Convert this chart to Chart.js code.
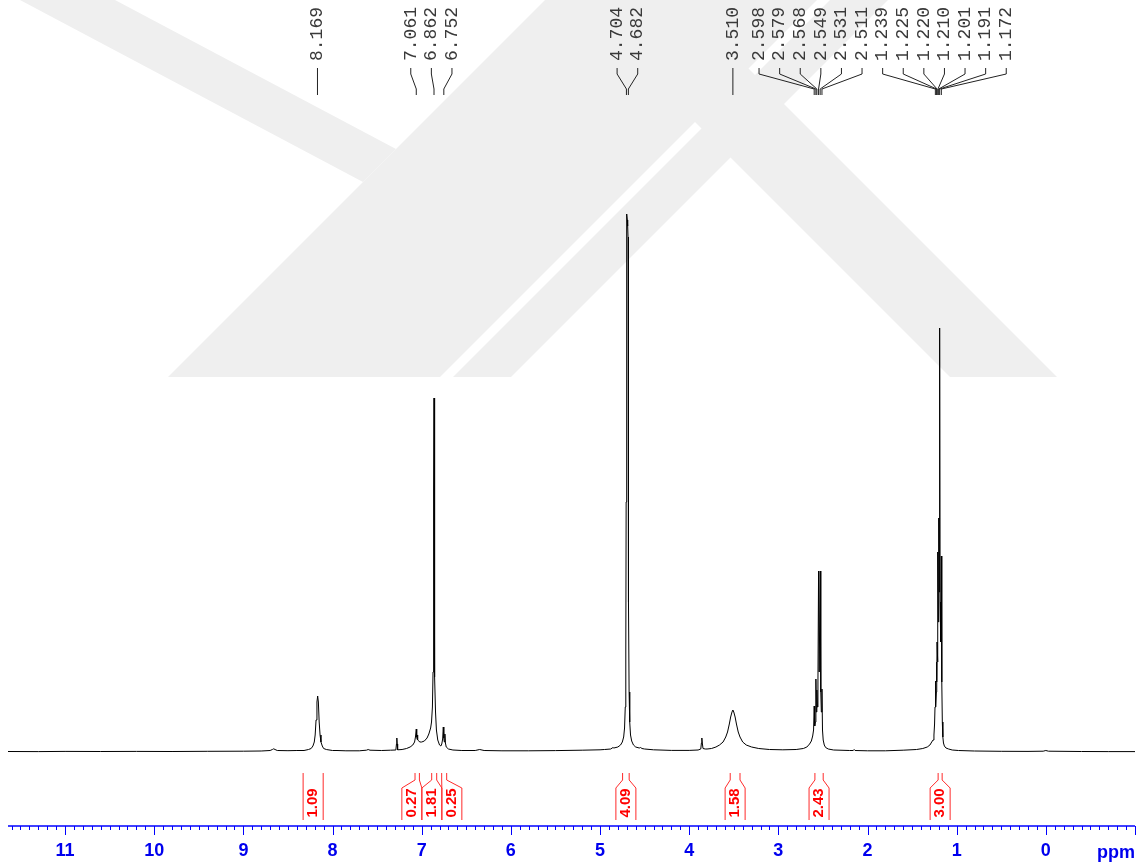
<!DOCTYPE html>
<html>
<head>
<meta charset="utf-8">
<title>1H NMR</title>
<script src="https://cdn.jsdelivr.net/npm/chart.js@4.4.1/dist/chart.umd.min.js"></script>
<style>
  html, body { margin: 0; padding: 0; background: #fff; }
  canvas { display: block; }
</style>
</head>
<body>
<canvas id="nmr" width="1146" height="868"></canvas>
<script>
// 1H spectrum trace: chemical shift (ppm) and intensity (arbitrary units)
var shiftPpm = [
  11.64, 11.3, 11.0, 10.6, 10.2, 9.8, 9.4, 9.0, 8.8, 8.70, 8.675, 8.66, 8.645, 8.62, 8.5, 8.4,
  8.32, 8.27, 8.24, 8.22, 8.205, 8.195, 8.185, 8.175, 8.167, 8.159, 8.150, 8.140, 8.130, 8.115, 8.10, 8.07, 8.0,
  7.95, 7.85, 7.70, 7.62, 7.60, 7.58, 7.45, 7.35, 7.29, 7.283, 7.279, 7.275, 7.27, 7.22, 7.17, 7.13, 7.10,
  7.08, 7.07, 7.061, 7.056, 7.052, 7.048, 7.043, 7.02, 7.00, 6.97, 6.94, 6.92, 6.90, 6.89, 6.88, 6.873,
  6.868, 6.865, 6.862, 6.859, 6.856, 6.851, 6.845, 6.835, 6.82, 6.80, 6.785, 6.775, 6.765, 6.758, 6.752,
  6.746, 6.740, 6.734, 6.725, 6.70, 6.65, 6.55, 6.40, 6.35, 6.30, 6.1, 5.8, 5.5, 5.2, 5.0,
  4.95, 4.88, 4.855, 4.845, 4.80, 4.77, 4.75, 4.735, 4.725, 4.717, 4.711, 4.707, 4.703, 4.699, 4.694,
  4.690, 4.686, 4.683, 4.679, 4.674, 4.667, 4.658, 4.645, 4.625, 4.60, 4.56, 4.545, 4.53, 4.50, 4.40, 4.20,
  4.0, 3.90, 3.87, 3.863, 3.858, 3.853, 3.845, 3.82, 3.80, 3.75, 3.70, 3.66, 3.62, 3.59, 3.57, 3.55, 3.535,
  3.52, 3.51, 3.50, 3.485, 3.47, 3.45, 3.43, 3.40, 3.36, 3.30, 3.22, 3.10, 2.95, 2.80, 2.72, 2.68, 2.65,
  2.63, 2.615, 2.605, 2.598, 2.592, 2.585, 2.579, 2.574, 2.568, 2.562, 2.556, 2.549, 2.542, 2.537, 2.531,
  2.524, 2.518, 2.511, 2.505, 2.497, 2.485, 2.47, 2.44, 2.38, 2.2, 2.16, 2.15, 2.14, 2.0, 1.8, 1.6, 1.45,
  1.38, 1.33, 1.30, 1.28, 1.265, 1.255, 1.248, 1.243, 1.239, 1.233, 1.228, 1.225, 1.222, 1.220, 1.215,
  1.210, 1.205, 1.201, 1.196, 1.191, 1.186, 1.181, 1.177, 1.172, 1.167, 1.161, 1.155, 1.148, 1.138, 1.12,
  1.09, 1.05, 0.98, 0.8, 0.5, 0.2, 0.03, 0.0, -0.03, -0.4, -0.7, -1.0
];
var intensity = [
  0.5, 0.4, 0.6, 0.5, 0.6, 0.5, 0.7, 0.8, 1, 1.5, 2.5, 3.2, 2.5, 1.5, 1.3, 1.5,
  1.5, 2.5, 3.5, 6, 10, 17, 32, 50, 56, 50, 30, 17, 10, 6, 3.5, 2.5, 1.5,
  1.5, 1.2, 1.2, 1.8, 2.5, 1.8, 1.5, 1.8, 2, 8, 14, 8, 2.2, 2.5, 3.5, 5, 7,
  10, 15, 23, 15, 13, 17, 12, 10, 10, 11, 14, 18, 24, 30, 45, 80,
  160, 260, 354, 260, 150, 75, 40, 22, 12, 7, 6, 8, 13, 25, 14,
  10, 18, 9, 5, 3, 2, 1.5, 1.5, 2.5, 1.5, 1.2, 1.2, 1.4, 1.8, 2.2,
  2.5, 3, 4.5, 4, 5, 7, 10, 15, 24, 45, 100, 250, 520, 538, 532,
  526, 515, 350, 150, 60, 30, 17, 11, 7, 5, 4, 4.5, 3.5, 3, 2.2, 1.6,
  1.6, 2, 3, 9, 14, 9, 3.5, 3, 3, 3.5, 5, 7, 10, 15, 20, 28, 35,
  40, 42, 40, 35, 28, 20, 15, 10, 7, 5, 3.5, 2.5, 2.2, 2.5, 3.5, 5, 8,
  11, 16, 22, 46, 26, 30, 73, 40, 62, 45, 70, 181, 80, 80, 181,
  60, 40, 63, 22, 12, 7, 4.5, 3, 2, 1.5, 1.5, 2.5, 1.5, 1.2, 1.2, 1.8, 2.5,
  3.5, 5, 7, 10, 12, 17, 28, 45, 71, 45, 60, 90, 70, 110, 90,
  200, 130, 234, 160, 424, 150, 120, 110, 196, 70, 30, 15, 9, 6, 4,
  3, 2, 1.5, 1, 0.7, 0.6, 0.8, 1.5, 0.8, 0.5, 0.4, 0.4
];

// picked peaks (ppm)
var peakLabels = [8.169, 7.061, 6.862, 6.752, 4.704, 4.682, 3.510,
  2.598, 2.579, 2.568, 2.549, 2.531, 2.511,
  1.239, 1.225, 1.220, 1.210, 1.201, 1.191, 1.172];

// integral regions (ppm) and normalised areas
var integralFrom = [8.330, 7.075, 6.888, 6.776, 4.747, 3.540, 2.590, 1.208];
var integralTo = [8.105, 7.026, 6.832, 6.720, 4.673, 3.430, 2.497, 1.163];
var integralValues = [1.09, 0.27, 1.81, 0.25, 4.09, 1.58, 2.43, 3.00];

// labelled axis ticks
var majorTicks = [11, 10, 9, 8, 7, 6, 5, 4, 3, 2, 1, 0];

// lay out items of given widths around their centres without overlap
function spreadPositions(centers, widths) {
  function layout(g) {
    var sum = 0, total = 0;
    for (var i = g.first; i <= g.last; i++) { sum += centers[i]; total += widths[i]; }
    var mean = sum / (g.last - g.first + 1);
    g.left = mean - total / 2;
    g.right = mean + total / 2;
    return g;
  }
  var groups = centers.map(function (c, i) { return layout({ first: i, last: i }); });
  var merged = true;
  while (merged) {
    merged = false;
    for (var i = 0; i < groups.length - 1; i++) {
      if (groups[i].right > groups[i + 1].left) {
        groups.splice(i, 2, layout({ first: groups[i].first, last: groups[i + 1].last }));
        merged = true;
        break;
      }
    }
  }
  var out = [];
  groups.forEach(function (g) {
    var x = g.left;
    for (var i = g.first; i <= g.last; i++) { out.push(x + widths[i] / 2); x += widths[i]; }
  });
  return out;
}

// faint page watermark behind the trace (canvas pixels)
var watermark = {
  id: 'watermark',
  beforeDatasetsDraw: function (chart) {
    var ctx = chart.ctx;
    var shapes = [
      [[20, 0], [115, 0], [396, 149], [363, 182]],
      [[545, 0], [817, 0], [440, 377], [168, 377]],
      [[830, 0], [888, 0], [511, 377], [453, 377]],
      [[573, 0], [680, 0], [1057, 377], [950, 377]]
    ];
    ctx.save();
    ctx.fillStyle = '#efefef';
    shapes.forEach(function (poly) {
      ctx.beginPath();
      poly.forEach(function (p, i) { if (i) ctx.lineTo(p[0], p[1]); else ctx.moveTo(p[0], p[1]); });
      ctx.closePath();
      ctx.fill();
    });
    ctx.restore();
  }
};

var nmrDecor = {
  id: 'nmrDecor',
  afterDraw: function (chart) {
    var ctx = chart.ctx, xs = chart.scales.x, area = chart.chartArea;
    var axisY = area.bottom;
    ctx.save();

    // ppm axis with 0.1 ppm minor ticks
    ctx.strokeStyle = '#0000ff';
    ctx.lineWidth = 1.5;
    ctx.beginPath();
    ctx.moveTo(area.left, axisY);
    ctx.lineTo(area.right, axisY);
    ctx.stroke();
    ctx.lineWidth = 1;
    for (var k = Math.ceil(xs.min * 10); k <= Math.floor(xs.max * 10); k++) {
      var tx = Math.round(xs.getPixelForValue(k / 10)) + 0.5;
      ctx.beginPath();
      ctx.moveTo(tx, axisY);
      ctx.lineTo(tx, axisY + (k % 10 === 0 ? 9 : 4));
      ctx.stroke();
    }
    ctx.fillStyle = '#0000ee';
    ctx.font = 'bold 18px "Liberation Sans", Arial, sans-serif';
    ctx.textAlign = 'right';
    ctx.textBaseline = 'alphabetic';
    ctx.fillText('ppm', area.right, 858);

    // peak labels with leader lines
    var peakPx = peakLabels.map(function (v) { return xs.getPixelForValue(v); });
    var labelPx = spreadPositions(peakPx, peakPx.map(function () { return 20.6; }));
    ctx.strokeStyle = '#222';
    ctx.lineWidth = 1;
    ctx.fillStyle = '#3a3a3a';
    ctx.font = '18px "Liberation Mono", "Courier New", monospace';
    peakLabels.forEach(function (v, i) {
      var lx = labelPx[i], px = peakPx[i];
      ctx.beginPath();
      ctx.moveTo(lx, 68);
      ctx.lineTo(lx, 74);
      ctx.lineTo(px, 89);
      ctx.lineTo(px, 95);
      ctx.stroke();
      ctx.save();
      ctx.translate(lx, 61);
      ctx.rotate(-Math.PI / 2);
      ctx.textAlign = 'left';
      ctx.textBaseline = 'middle';
      ctx.fillText(v.toFixed(3), 0, 0);
      ctx.restore();
    });

    // integral brackets
    var lo = [], hi = [], mid = [], w = [];
    integralFrom.forEach(function (a, i) {
      var p1 = xs.getPixelForValue(a), p2 = xs.getPixelForValue(integralTo[i]);
      lo.push(Math.min(p1, p2));
      hi.push(Math.max(p1, p2));
      mid.push((p1 + p2) / 2);
      w.push(Math.max(Math.abs(p2 - p1), 20));
    });
    var boxMid = spreadPositions(mid, w);
    ctx.strokeStyle = '#ff2a2a';
    ctx.fillStyle = '#ff0000';
    ctx.font = 'bold 15px "Liberation Sans", Arial, sans-serif';
    integralValues.forEach(function (val, i) {
      var bl = boxMid[i] - w[i] / 2, br = boxMid[i] + w[i] / 2;
      [[lo[i], bl], [hi[i], br]].forEach(function (pair) {
        ctx.beginPath();
        ctx.moveTo(pair[0], 773);
        ctx.lineTo(pair[0], 780);
        ctx.lineTo(pair[1], 788);
        ctx.lineTo(pair[1], 820);
        ctx.stroke();
      });
      ctx.save();
      ctx.translate(boxMid[i], 803);
      ctx.rotate(-Math.PI / 2);
      ctx.textAlign = 'center';
      ctx.textBaseline = 'middle';
      ctx.fillText(val.toFixed(2), 0, 0);
      ctx.restore();
    });

    ctx.restore();
  }
};

var points = shiftPpm.map(function (s, i) { return { x: s, y: intensity[i] }; });

new Chart(document.getElementById('nmr'), {
  type: 'line',
  data: {
    datasets: [{
      data: points,
      borderColor: '#000',
      borderWidth: 1,
      pointRadius: 0,
      tension: 0,
      fill: false
    }]
  },
  options: {
    responsive: false,
    animation: false,
    events: [],
    layout: { padding: { left: 8, right: 11, top: 0, bottom: 0 } },
    plugins: { legend: { display: false }, tooltip: { enabled: false } },
    scales: {
      x: {
        type: 'linear',
        reverse: true,
        min: -1.0,
        max: 11.64,
        grid: { display: false, drawTicks: false },
        border: { display: false },
        afterBuildTicks: function (scale) {
          scale.ticks = majorTicks.map(function (v) { return { value: v }; });
        },
        afterFit: function (scale) { scale.height = 42; },
        ticks: {
          color: '#0000ee',
          padding: 14,
          maxRotation: 0,
          autoSkip: false,
          font: { family: '"Liberation Sans", Arial, sans-serif', size: 18, weight: 'bold' },
          callback: function (v) { return String(v); }
        }
      },
      y: { display: false, min: -74, max: 752 }
    }
  },
  plugins: [watermark, nmrDecor]
});
</script>
</body>
</html>
